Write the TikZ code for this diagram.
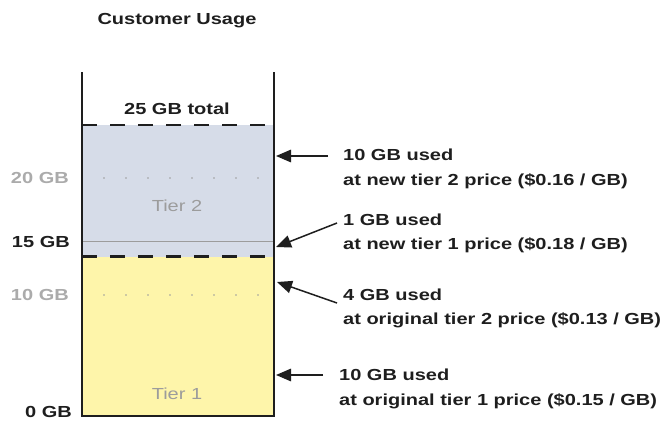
\documentclass[tikz,border=0pt]{standalone}
\usepackage{fontspec}
\setmainfont{Liberation Sans}[FakeStretch=1.25]
\usetikzlibrary{arrows.meta}

\definecolor{tiertwo}{HTML}{D6DCE8}
\definecolor{tierone}{HTML}{FEF5AA}
\definecolor{softgray}{HTML}{9C9C9C}
\definecolor{inkblack}{HTML}{1E1E1E}

\tikzset{
    pointer/.style={draw=inkblack, line width=1.5pt, -{Triangle[length=15pt,width=12.5pt]}},
    note/.style={anchor=west, align=left, inner sep=0pt, text=inkblack,
        font=\fontsize{16}{24.5}\selectfont\bfseries},
    gblabel/.style={anchor=east, inner sep=0pt, font=\fontsize{16}{18}\selectfont\bfseries},
    tierlabel/.style={inner sep=0pt, text=softgray, font=\fontsize{16}{18}\selectfont},
    tierline/.style={draw=inkblack, line width=2.6pt, dash pattern=on 15pt off 13pt}
}

\begin{document}
\begin{tikzpicture}[x=1pt,y=-1pt]
    \useasboundingbox (0,0) rectangle (667,421);

    % Define points
    \coordinate (TL) at (82,72);
    \coordinate (TR) at (274,72);
    \coordinate (BL) at (82,416);
    \coordinate (BR) at (274,416);
    \coordinate (TotalL) at (82,125);
    \coordinate (TotalR) at (274,125);
    \coordinate (SplitL) at (82,256.5);
    \coordinate (SplitR) at (274,256.5);
    \coordinate (NewL) at (82,241.7);
    \coordinate (NewR) at (274,241.7);

    % Fill tiers
    \fill[tiertwo] (TotalL) rectangle (SplitR);
    \fill[tierone] (SplitL) rectangle (BR);

    % Grid dots
    \foreach \y in {178,295}
        \foreach \x in {82,104,...,258}
            \fill[softgray] (\x,\y) circle (0.9pt);

    % Draw edges
    \draw[softgray, line width=1.2pt] (NewL) -- (NewR);
    \draw[tierline] (TotalL) -- (TotalR);
    \draw[tierline] (SplitL) -- (SplitR);
    \draw[inkblack, line width=1.8pt] (TL) -- (BL) -- (BR) -- (TR);

    % Texts
    \node[inner sep=0pt, text=inkblack, font=\fontsize{16}{18}\selectfont\bfseries] (title) at (177,21) {Customer Usage};
    \node[inner sep=0pt, text=inkblack, font=\fontsize{16}{18}\selectfont\bfseries] (total) at (177,109) {25 GB total};
    \node[tierlabel] (tier2) at (177,206) {Tier 2};
    \node[tierlabel] (tier1) at (177,394) {Tier 1};

    \node[gblabel, text=softgray!85] (gb20) at (69,178) {20 GB};
    \node[gblabel, text=inkblack] (gb15) at (70,241.7) {15 GB};
    \node[gblabel, text=softgray!85] (gb10) at (69,295) {10 GB};
    \node[gblabel, text=inkblack] (gb0) at (72,412) {0 GB};

    \node[note] (new2) at (343,169.1) {10 GB used\\at new tier 2 price (\$0.16 / GB)};
    \node[note] (new1) at (343,233.6) {1 GB used\\at new tier 1 price (\$0.18 / GB)};
    \node[note] (old2) at (343,308.6) {4 GB used\\at original tier 2 price (\$0.13 / GB)};
    \node[note] (old1) at (339,389.1) {10 GB used\\at original tier 1 price (\$0.15 / GB)};

    % Arrows
    \coordinate (s1) at (328,156);
    \coordinate (t1) at (276,156);
    \coordinate (s2) at (337,223);
    \coordinate (t2) at (276,247);
    \coordinate (s3) at (337,303);
    \coordinate (t3) at (277,282);
    \coordinate (s4) at (323,375);
    \coordinate (t4) at (276,375);
    \foreach \from/\to in {s1/t1, s2/t2, s3/t3, s4/t4}
        \draw[pointer] (\from) -- (\to);

\end{tikzpicture}
\end{document}
